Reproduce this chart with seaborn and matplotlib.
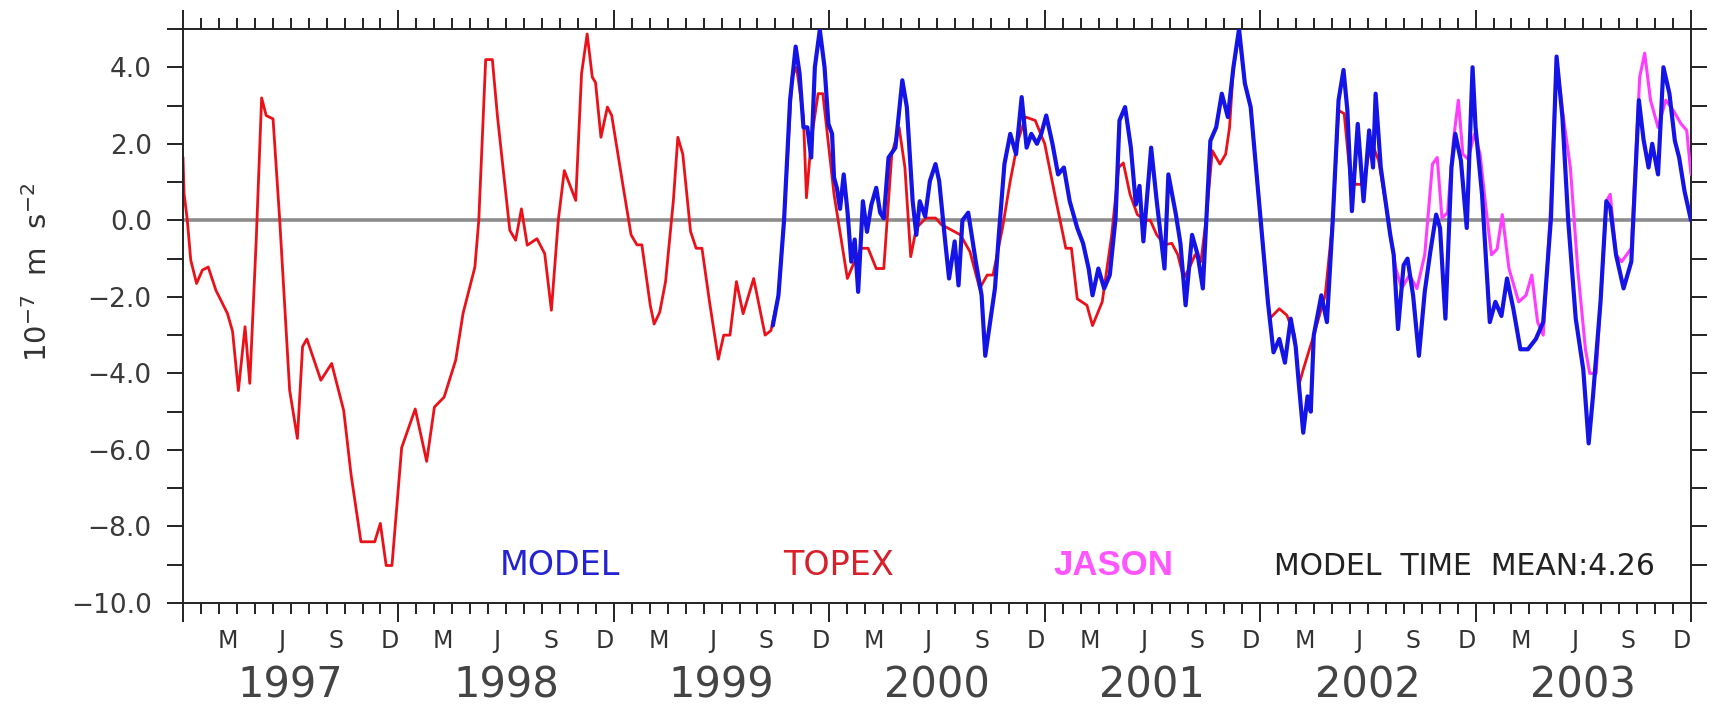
"""
Model vs. altimetry (TOPEX / JASON) time series, 1997-2003.
Ferret-style line plot rebuilt with seaborn/matplotlib.
"""
import numpy as np
import matplotlib
matplotlib.use("Agg")
import matplotlib.pyplot as plt
import matplotlib.transforms as mtransforms
import seaborn as sns

# ----------------------------------------------------------------------
# Data (decimal year, value in 1e-7 m s^-2)
# ----------------------------------------------------------------------
topex_t = [1997.0, 1997.005, 1997.02, 1997.036, 1997.063, 1997.09, 1997.117, 1997.153,
           1997.206, 1997.23, 1997.257, 1997.288, 1997.31, 1997.34, 1997.365, 1997.386,
           1997.418, 1997.449, 1997.495, 1997.531, 1997.555, 1997.575, 1997.64, 1997.69,
           1997.746, 1997.78, 1997.826, 1997.89, 1997.916, 1997.943, 1997.97, 1998.015,
           1998.078, 1998.131, 1998.167, 1998.212, 1998.266, 1998.3, 1998.355, 1998.373,
           1998.405, 1998.436, 1998.46, 1998.517, 1998.544, 1998.571, 1998.598, 1998.643,
           1998.679, 1998.71, 1998.742, 1998.77, 1998.823, 1998.85, 1998.876, 1998.9,
           1998.915, 1998.94, 1998.97, 1998.99, 1999.044, 1999.08, 1999.107, 1999.13,
           1999.169, 1999.187, 1999.213, 1999.24, 1999.276, 1999.297, 1999.32, 1999.356,
           1999.382, 1999.409, 1999.444, 1999.485, 1999.51, 1999.539, 1999.569, 1999.6,
           1999.649, 1999.702, 1999.729, 1999.764, 1999.79, 1999.827, 1999.848, 1999.88,
           1999.894, 1999.916, 1999.948, 1999.97, 2000.022, 2000.084, 2000.11, 2000.147,
           2000.18, 2000.218, 2000.253, 2000.29, 2000.324, 2000.351, 2000.378, 2000.404,
           2000.449, 2000.493, 2000.52, 2000.609, 2000.653, 2000.698, 2000.733, 2000.76,
           2000.804, 2000.84, 2000.876, 2000.911, 2000.956, 2001.0, 2001.053, 2001.098,
           2001.124, 2001.151, 2001.196, 2001.222, 2001.267, 2001.311, 2001.343, 2001.365,
           2001.396, 2001.43, 2001.467, 2001.49, 2001.52, 2001.556, 2001.59, 2001.618,
           2001.645, 2001.67, 2001.698, 2001.725, 2001.75, 2001.778, 2001.813, 2001.84,
           2001.858, 2001.876, 2001.902, 2001.929, 2001.956, 2002.0, 2002.044, 2002.089,
           2002.124, 2002.16, 2002.18, 2002.2, 2002.249, 2002.302, 2002.337, 2002.364,
           2002.39, 2002.417, 2002.444, 2002.48, 2002.515, 2002.55, 2002.586, 2002.604]
topex_v = [1.65, 0.7, 0.0, -1.04, -1.65, -1.3, -1.22, -1.83,
           -2.43, -2.9, -4.45, -2.78, -4.26, -0.5, 3.2, 2.74,
           2.65, 0.0, -4.44, -5.7, -3.3, -3.1, -4.18, -3.74,
           -4.97, -6.64, -8.4, -8.4, -7.92, -9.02, -9.02, -5.94,
           -4.93, -6.3, -4.88, -4.62, -3.65, -2.43, -1.22, 0.0,
           4.2, 4.2, 2.7, -0.26, -0.52, 0.3, -0.65, -0.48,
           -0.87, -2.35, 0.0, 1.3, 0.52, 3.83, 4.87, 3.74,
           3.6, 2.17, 2.96, 2.74, 0.85, -0.38, -0.64, -0.64,
           -2.22, -2.71, -2.4, -1.6, 0.5, 2.17, 1.73, -0.29,
           -0.73, -0.73, -2.13, -3.63, -3.0, -3.0, -1.6, -2.44,
           -1.52, -3.0, -2.88, -1.96, 0.0, 3.75, 4.0, 2.7,
           0.59, 2.08, 3.31, 3.31, 0.68, -1.52, -1.17, -0.73,
           -0.73, -1.26, -1.26, 1.73, 2.43, 1.38, -0.95, -0.2,
           0.06, 0.06, -0.11, -0.38, -0.82, -1.78, -1.43, -1.43,
           -0.2, 1.03, 2.08, 2.7, 2.61, 2.0, 0.5, -0.73,
           -0.73, -2.05, -2.22, -2.75, -2.13, -0.38, 1.38, 1.5,
           0.68, 0.15, 0.0, 0.0, -0.38, -0.64, -0.6, -0.9,
           -1.52, -1.26, -0.9, -1.08, 0.06, 1.82, 1.47, 1.73,
           2.43, 4.0, 4.9, 3.58, 2.96, 0.15, -2.57, -2.31,
           -2.48, -3.0, -4.3, -3.9, -3.0, -1.96, 0.0, 2.87,
           2.79, 1.2, 0.94, 0.94, 2.08, 1.56, 0.33, -0.38]

model_t = [1999.738, 1999.764, 1999.79, 1999.818, 1999.844, 1999.862, 1999.88, 1999.898,
           1999.916, 1999.933, 1999.956, 1999.978, 1999.996, 2000.013, 2000.022, 2000.035,
           2000.05, 2000.067, 2000.085, 2000.102, 2000.118, 2000.134, 2000.156, 2000.175,
           2000.195, 2000.218, 2000.236, 2000.253, 2000.275, 2000.307, 2000.339, 2000.36,
           2000.387, 2000.404, 2000.42, 2000.445, 2000.467, 2000.493, 2000.51, 2000.538,
           2000.556, 2000.582, 2000.6, 2000.618, 2000.645, 2000.68, 2000.707, 2000.724,
           2000.742, 2000.769, 2000.787, 2000.813, 2000.84, 2000.867, 2000.893, 2000.916,
           2000.938, 2000.964, 2000.984, 2001.007, 2001.036, 2001.062, 2001.089, 2001.116,
           2001.151, 2001.178, 2001.204, 2001.222, 2001.249, 2001.276, 2001.302, 2001.329,
           2001.347, 2001.373, 2001.4, 2001.423, 2001.44, 2001.458, 2001.494, 2001.52,
           2001.556, 2001.574, 2001.609, 2001.63, 2001.654, 2001.684, 2001.71, 2001.734,
           2001.769, 2001.796, 2001.822, 2001.85, 2001.876, 2001.902, 2001.929, 2001.956,
           2002.0, 2002.036, 2002.062, 2002.089, 2002.115, 2002.142, 2002.165, 2002.18,
           2002.2, 2002.22, 2002.235, 2002.249, 2002.284, 2002.31, 2002.337, 2002.364,
           2002.387, 2002.405, 2002.426, 2002.453, 2002.48, 2002.506, 2002.524, 2002.536,
           2002.56, 2002.586, 2002.604, 2002.62, 2002.64, 2002.666, 2002.684, 2002.71,
           2002.737, 2002.764, 2002.79, 2002.817, 2002.835, 2002.86, 2002.888, 2002.906,
           2002.932, 2002.959, 2002.986, 2003.0, 2003.03, 2003.066, 2003.092, 2003.12,
           2003.146, 2003.175, 2003.208, 2003.243, 2003.28, 2003.314, 2003.35, 2003.376,
           2003.403, 2003.43, 2003.465, 2003.5, 2003.525, 2003.545, 2003.58, 2003.607,
           2003.625, 2003.652, 2003.687, 2003.723, 2003.758, 2003.78, 2003.803, 2003.82,
           2003.847, 2003.872, 2003.9, 2003.925, 2003.945, 2003.97, 2004.0]
model_v = [-2.75, -1.96, 0.0, 3.14, 4.54, 3.84, 2.43, 2.43,
           1.64, 4.0, 4.98, 4.0, 2.52, 2.26, 1.12, 0.85,
           0.3, 1.2, 0.2, -1.08, -0.5, -1.87, 0.5, -0.3,
           0.4, 0.85, 0.2, 0.05, 1.64, 1.9, 3.66, 2.96,
           0.5, -0.38, 0.5, 0.1, 1.03, 1.47, 1.03, -0.55,
           -1.52, -0.55, -1.7, 0.0, 0.2, -1.08, -1.96, -3.54,
           -2.84, -1.78, -0.38, 1.47, 2.26, 1.73, 3.22, 1.9,
           2.26, 2.0, 2.26, 2.74, 2.0, 1.2, 1.38, 0.5,
           -0.2, -0.6, -1.26, -1.96, -1.26, -1.78, -1.43, 0.06,
           2.61, 2.96, 1.9, 0.41, 0.9, -0.55, 1.9, 0.5,
           -1.26, 1.2, 0.15, -0.6, -2.22, -0.38, -0.9, -1.78,
           2.08, 2.43, 3.31, 2.7, 4.0, 5.0, 3.58, 2.96,
           0.15, -2.13, -3.45, -3.1, -3.72, -2.57, -3.3, -4.3,
           -5.55, -4.6, -5.0, -3.0, -1.96, -2.66, 0.0, 3.14,
           3.93, 2.87, 0.24, 2.52, 0.5, 2.35, 1.38, 3.31,
           1.38, 0.33, -0.38, -0.9, -2.84, -1.17, -1.0, -1.96,
           -3.54, -1.87, -0.82, 0.15, -0.2, -2.57, 1.38, 2.26,
           1.56, -0.2, 4.0, 2.43, 0.68, -2.66, -2.13, -2.5,
           -1.52, -2.3, -3.37, -3.37, -3.1, -2.66, 0.06, 4.28,
           2.7, 0.0, -2.57, -3.9, -5.83, -4.6, -2.13, 0.5,
           0.33, -0.9, -1.78, -1.08, 3.14, 2.1, 1.38, 2.0,
           1.2, 4.0, 3.31, 2.08, 1.64, 0.76, 0.0]

jason_t = [2002.604, 2002.63, 2002.657, 2002.693, 2002.728, 2002.764, 2002.8, 2002.822,
           2002.844, 2002.87, 2002.897, 2002.92, 2002.941, 2002.965, 2002.995, 2003.021,
           2003.048, 2003.074, 2003.1, 2003.124, 2003.155, 2003.2, 2003.234, 2003.261,
           2003.288, 2003.314, 2003.35, 2003.376, 2003.405, 2003.44, 2003.474, 2003.51,
           2003.53, 2003.56, 2003.58, 2003.607, 2003.625, 2003.652, 2003.678, 2003.723,
           2003.762, 2003.785, 2003.812, 2003.847, 2003.883, 2003.918, 2003.954, 2003.98,
           2004.0]
jason_v = [-0.38, -1.26, -1.78, -1.43, -1.78, -0.9, 1.47, 1.64,
           0.06, 0.2, 2.08, 3.14, 1.73, 1.6, 2.26, 1.73,
           0.33, -0.9, -0.75, 0.15, -1.26, -2.13, -1.96, -1.43,
           -2.66, -3.0, 0.5, 4.2, 2.8, 1.38, -1.26, -3.37,
           -4.0, -4.0, -2.13, 0.5, 0.68, -0.9, -1.08, -0.73,
           3.75, 4.37, 3.14, 2.43, 3.14, 2.87, 2.52, 2.35,
           1.2]

years = list(range(1997, 2004))
month_letters = ["M", "J", "S", "D"]
month_index = [3, 6, 9, 12]           # Mar, Jun, Sep, Dec
ytick_vals = list(range(-10, 6))

# ----------------------------------------------------------------------
# Style
# ----------------------------------------------------------------------
sns.set_style("ticks")
plt.rcParams["font.family"] = ["DejaVu Sans"]

fig = plt.figure(figsize=(17.2, 7.09), dpi=100)
fig.patch.set_facecolor("white")
ax = fig.add_axes([183 / 1720, 1 - 603 / 709, 1508 / 1720, 574 / 709])

ax.axhline(0, color="#8c8c8c", lw=2.6, zorder=1)

sns.lineplot(x=topex_t, y=topex_v, ax=ax, color="#ec1018", lw=2.0,
             estimator=None, sort=False, zorder=2)
sns.lineplot(x=jason_t, y=jason_v, ax=ax, color="#ff3cff", lw=2.2,
             estimator=None, sort=False, zorder=3)
sns.lineplot(x=model_t, y=model_v, ax=ax, color="#1414e6", lw=3.0,
             estimator=None, sort=False, zorder=4)

ax.set_xlim(1997, 2004)
ax.set_ylim(-10, 5)

# x ticks: years (long) and months (short), pointing out on top and bottom
ax.set_xticks([y for y in range(1997, 2005)])
ax.set_xticks([y + m / 12 for y in years for m in range(1, 12)], minor=True)
ax.set_xticklabels([])
ax.tick_params(axis="x", which="major", length=14, width=1.4, direction="out",
               top=True, bottom=True, color="#222222")
ax.tick_params(axis="x", which="minor", length=8, width=1.4, direction="out",
               top=True, bottom=True, color="#222222")

# y ticks every unit, labels every 2
ax.set_yticks(ytick_vals)
ax.set_yticklabels([f"{v:.1f}".replace("-", "\u2212") if v % 2 == 0 else ""
                    for v in ytick_vals])
ax.tick_params(axis="y", which="major", length=11.5, width=1.4, direction="out",
               left=True, right=True, labelsize=19, pad=11, color="#222222",
               labelcolor="#3a3a3a")

for sp in ax.spines.values():
    sp.set_visible(True)
    sp.set_linewidth(1.4)
    sp.set_color("#222222")

# month and year labels below the axis
trans = mtransforms.blended_transform_factory(ax.transData, ax.transAxes)
for yr in years:
    for letter, m in zip(month_letters, month_index):
        ax.text(yr + (m - 0.5) / 12, -0.066, letter, transform=trans,
                ha="center", va="center", fontsize=17, color="#333333")
    ax.text(yr + 0.5, -0.143, str(yr), transform=trans, ha="center",
            va="center", fontsize=30, color="#444444")

ax.set_ylabel("")
ax.set_xlabel("")
fig.text(0.022, 0.615, r"10$^{-7}$  m  s$^{-2}$", rotation=90, ha="center",
         va="center", fontsize=21, color="#333333")

# legend-style labels inside the plot
ax.text(0.25, 0.049, "MODEL", transform=ax.transAxes, ha="center",
        va="baseline", fontsize=24, color="#2323d2")
ax.text(0.435, 0.049, "TOPEX", transform=ax.transAxes, ha="center",
        va="baseline", fontsize=24, color="#d8202a")
ax.text(0.617, 0.049, "JASON", transform=ax.transAxes, ha="center",
        va="baseline", fontsize=25, color="#ff55ff", fontweight="bold",
        family=["Liberation Sans", "DejaVu Sans"])
ax.text(0.976, 0.049, "MODEL  TIME  MEAN:4.26", transform=ax.transAxes,
        ha="right", va="baseline", fontsize=21.5, color="#222222")

fig.savefig("out.png", dpi=100, facecolor="white")
